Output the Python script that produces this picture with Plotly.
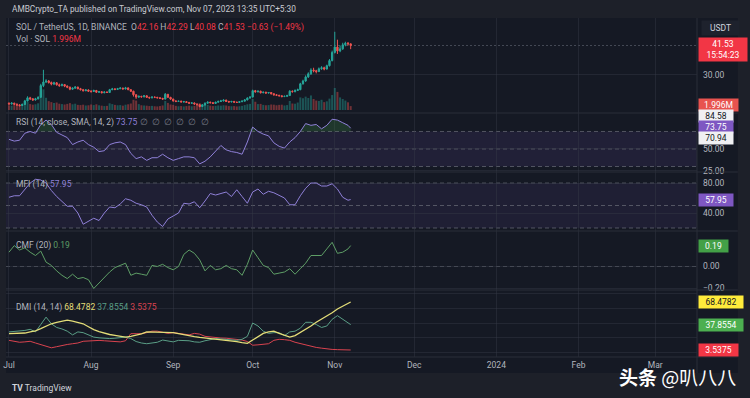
import numpy as np
import pandas as pd
import plotly.graph_objects as go

# ---------------- data ----------------
start_date = "2023-07-01"
prev_close = 18.9  # close of 2023-06-30 (daily open = previous close)

close = [
    18.6, 18.9, 18.5, 18.2, 18.0, 18.4, 19.8, 21.0, 20.6, 20.2,
    20.6, 21.2, 25.8, 27.2, 27.6, 27.0, 26.4, 26.9, 26.1, 25.8,
    26.2, 25.6, 25.2, 24.4, 24.8, 25.2, 24.6, 24.2, 23.8, 24.1,
    23.6, 23.5, 23.9, 23.2, 23.4, 23.0, 23.3, 23.1, 24.2, 24.5,
    24.3, 24.6, 24.8, 24.5, 24.9, 24.2, 23.6, 22.2, 21.3, 21.6,
    21.4, 21.8, 21.2, 21.0, 21.3, 21.2, 21.0, 20.8, 20.5, 22.4,
    21.2, 20.5, 19.8, 19.6, 19.7, 19.4, 19.5, 19.2, 18.9, 19.0,
    18.6, 18.3, 17.6, 18.2, 18.9, 19.3, 19.1, 18.8, 19.3, 19.6,
    19.8, 20.1, 19.6, 19.4, 19.6, 19.3, 19.2, 19.5, 19.7, 20.2,
    20.9, 21.3, 23.8, 23.4, 23.6, 23.0, 23.2, 22.9, 23.1, 22.6,
    22.2, 22.0, 21.8, 21.5, 21.6, 21.9, 23.6, 23.4, 23.9, 24.2,
    26.5, 27.6, 29.2, 30.4, 31.9, 31.6, 31.3, 32.4, 32.8, 32.3,
    33.6, 35.6, 38.8, 40.9, 39.4, 40.2, 41.8, 42.4, 42.16, 41.53,
]
high = [
    19.2, 19.3, 19.1, 18.8, 18.5, 18.8, 20.2, 21.6, 21.4, 20.9,
    21.0, 21.6, 26.5, 32.0, 28.3, 28.0, 27.4, 27.3, 27.2, 26.6,
    26.6, 26.4, 25.9, 25.4, 25.1, 25.6, 25.4, 24.9, 24.5, 24.4,
    24.3, 24.0, 24.2, 24.1, 23.7, 23.6, 23.5, 23.5, 24.5, 24.9,
    24.8, 24.9, 25.2, 25.0, 25.3, 25.1, 24.4, 23.8, 22.4, 21.9,
    21.8, 22.1, 22.0, 21.4, 21.6, 21.5, 21.4, 21.2, 21.0, 22.9,
    22.5, 21.4, 20.7, 20.0, 19.9, 19.9, 19.8, 19.7, 19.4, 19.3,
    19.2, 18.8, 18.5, 18.5, 19.2, 19.6, 19.5, 19.3, 19.5, 19.9,
    20.2, 20.4, 20.3, 19.8, 19.8, 19.8, 19.5, 19.7, 20.0, 20.5,
    21.2, 21.6, 24.2, 24.1, 23.9, 23.8, 23.5, 23.4, 23.3, 23.2,
    22.8, 22.4, 22.2, 22.0, 21.9, 22.2, 24.0, 23.9, 24.3, 24.6,
    26.9, 28.1, 29.8, 31.0, 32.6, 32.8, 32.0, 32.9, 33.4, 33.2,
    34.0, 36.2, 39.5, 46.9, 43.8, 41.5, 42.6, 43.0, 42.9, 42.29,
]
low = [
    18.3, 18.4, 18.2, 17.9, 17.6, 17.8, 18.2, 19.6, 20.2, 19.8,
    19.9, 20.4, 21.0, 25.2, 26.8, 26.6, 25.9, 26.0, 25.8, 25.3,
    25.5, 25.2, 24.8, 24.0, 24.1, 24.6, 24.3, 23.9, 23.5, 23.6,
    23.3, 23.0, 23.3, 22.9, 23.0, 22.8, 22.8, 22.9, 23.0, 24.0,
    24.0, 24.1, 24.4, 24.2, 24.3, 24.0, 23.3, 21.5, 20.6, 21.0,
    21.1, 21.2, 21.0, 20.7, 20.8, 20.9, 20.8, 20.6, 20.2, 20.4,
    21.0, 20.2, 19.5, 19.3, 19.4, 19.2, 19.2, 19.0, 18.6, 18.7,
    18.3, 18.0, 17.3, 17.4, 18.0, 18.7, 18.8, 18.6, 18.7, 19.1,
    19.4, 19.6, 19.4, 19.1, 19.2, 19.1, 19.0, 19.0, 19.3, 19.6,
    20.0, 20.7, 21.2, 23.0, 23.1, 22.7, 22.8, 22.6, 22.7, 22.3,
    21.9, 21.7, 21.5, 21.2, 21.3, 21.4, 21.8, 23.1, 23.2, 23.7,
    24.0, 26.2, 27.3, 28.8, 30.0, 31.0, 30.6, 31.1, 32.0, 31.8,
    32.1, 33.3, 35.3, 38.4, 38.2, 38.9, 39.8, 41.2, 41.5, 40.08,
]
volume_m = [
    2.4, 2.2, 2.6, 2.5, 2.8, 2.6, 3.8, 4.2, 3.0, 2.7, 2.9, 3.4,
    9.5, 10.5, 6.2, 4.5, 4.0, 3.6, 3.8, 3.2, 3.0, 2.8, 3.1, 3.5, 2.9, 3.2, 2.6, 2.5, 2.7, 2.3, 2.4,
    2.8, 2.5, 2.9, 2.4, 2.2, 2.0, 2.1, 3.4, 3.0, 2.6, 2.4, 2.5, 2.2, 2.7, 2.9, 3.3, 5.2, 4.8, 3.0, 2.4,
    2.3, 2.2, 2.0, 2.1, 1.9, 1.8, 2.0, 2.3, 4.6, 3.6, 2.8,
    2.6, 2.1, 1.9, 2.0, 1.8, 2.0, 2.2, 1.9, 2.1, 2.4, 3.5, 3.0, 2.9, 2.6, 2.2, 2.0, 2.1, 2.3, 2.2, 2.4,
    2.3, 2.0, 1.9, 2.0, 1.8, 1.9, 2.1, 2.5, 2.9, 3.1,
    5.6, 4.2, 3.0, 3.1, 2.6, 2.4, 2.5, 2.8, 2.7, 2.4, 2.6, 2.7, 2.3, 2.5, 4.6, 3.3, 3.2, 3.8, 6.4, 6.0,
    6.8, 6.1, 7.4, 5.6, 4.8, 4.6, 5.2, 4.0, 4.4, 5.8, 7.6,
    11.2, 9.2, 6.4, 5.6, 4.8, 3.9, 1.996,
]

# indicators, read every second day (plus the last day)
rsi = [61, 59, 60, 68, 70, 68, 78, 83, 78, 69,
       66, 63, 55, 58, 60, 55, 52, 47, 48, 55,
       57, 58, 55, 45, 39, 41, 37, 40, 40, 44,
       40, 37, 39, 41, 41, 40, 33, 36, 41, 48,
       54, 49, 47, 46, 44, 58, 75, 70, 67, 65,
       57, 53, 51, 58, 63, 70, 79, 77, 78, 73,
       77, 84, 83, 80, 77, 73.75]
mfi = [61, 63, 63, 71, 80, 85, 84, 80, 70, 62,
       55, 49, 49, 40, 25, 29, 33, 30, 40, 48,
       47, 52, 59, 57, 53, 51, 48, 37, 28, 22,
       32, 36, 40, 53, 52, 55, 47, 56, 66, 64,
       66, 68, 62, 71, 62, 53, 68, 72, 65, 69,
       67, 63, 60, 51, 51, 63, 73, 80, 80, 76,
       76, 79, 72, 61, 57, 57.95]
cmf = [0.13, 0.19, 0.15, 0.17, 0.13, 0.10, 0.14, 0.04, 0.01, -0.04,
       -0.08, -0.11, -0.07, -0.11, -0.10, -0.12, -0.20, -0.15, -0.10, -0.05,
       -0.01, 0.01, 0.03, -0.08, -0.06, -0.07, -0.08, 0.01, 0.00, 0.02,
       -0.01, -0.03, 0.00, 0.11, 0.15, 0.12, 0.06, -0.04, 0.01, -0.03,
       -0.02, 0.01, -0.02, -0.03, -0.08, 0.02, 0.15, 0.08, 0.01, -0.01,
       -0.07, -0.06, -0.05, -0.02, -0.07, -0.02, 0.03, 0.10, 0.10, 0.10,
       0.16, 0.22, 0.12, 0.13, 0.16, 0.19]
dmi_yellow = [25.6, 25.6, 25.6, 26.5, 28, 29.5, 32.5, 36, 39, 41,
              43, 44, 42.5, 41, 39, 35, 31, 28.5, 26, 24.5,
              23.4, 22, 21, 22, 23.5, 25.5, 28, 28, 28, 28,
              28, 27, 25.6, 24, 22.5, 21.5, 20.5, 19.7, 19, 18.5,
              18, 17, 16, 15, 13.5, 12.5, 17, 22, 26, 28,
              29, 26, 23, 21, 23, 27, 32, 36, 41, 45,
              50, 54, 59, 63, 67, 68.4782]
dmi_green = [28, 28.5, 29, 30, 31.5, 28, 38, 48, 39, 34,
             32, 29, 24, 28, 27, 24, 21, 20, 19, 19,
             19.5, 20, 21, 19, 15, 13, 12, 13, 14, 17,
             16, 14.5, 16.6, 16.6, 16, 14.5, 14, 16, 17.5, 19,
             18.5, 18, 17, 16.6, 18, 22, 40, 36, 29, 26,
             27, 27, 23, 28, 29, 33, 41, 41, 38, 34,
             36, 45, 50, 45, 40, 37.8554]
dmi_red = [16.6, 15, 14, 14.5, 15.3, 13, 11, 9, 6.5, 8,
           10, 11, 12, 13, 15.3, 16, 16.6, 16.5, 16, 15.3,
           15, 14.5, 16, 25.6, 25.6, 25.6, 27, 29, 29, 28,
           26, 27, 26, 24.5, 24, 26, 25, 22, 21, 20.5,
           19.7, 19.5, 19, 18, 17, 15, 10, 10.5, 11.5, 12,
           16.6, 18, 17.5, 16.6, 14, 12, 10, 8.5, 7, 6,
           4.8, 4.3, 4, 3.8, 3.6, 3.5375]

rsi_band_upper = 84.58
rsi_band_lower = 70.94
countdown = "15:54:23"
quote_ccy = "USDT"
symbol_text = "SOL / TetherUS, 1D, BINANCE"
vol_text = "Vol · SOL"
header_text = "AMBCrypto_TA published on TradingView.com, Nov 07, 2023 13:35 UTC+5:30"
month_ticks = ["2023-07-01", "2023-08-01", "2023-09-01", "2023-10-01", "2023-11-01",
               "2023-12-01", "2024-01-01", "2024-02-01", "2024-03-01"]
month_labels = ["Jul", "Aug", "Sep", "Oct", "Nov", "Dec", "2024", "Feb", "Mar"]
rsi_levels = [70, 50, 30]
mfi_levels = [80, 50, 20]
cmf_levels = [0]
price_ticks = [30]
rsi_ticks = [25, 50]
mfi_ticks = [40, 80]
cmf_ticks = [-0.2, 0.0]
watermark = "<b>头条</b> @叭八八"

# ---------------- derived ----------------
n = len(close)
dates = pd.date_range(start_date, periods=n, freq="D")
open_ = [prev_close] + close[:-1]
ind_idx = list(range(0, n, 2)) + [n - 1]
ind_dates = dates[ind_idx]

UP, DN = "#26a69a", "#ef5350"
vol_colors = ["rgba(38,166,154,0.42)" if c >= o else "rgba(239,83,80,0.42)"
              for o, c in zip(open_, close)]

# ---------------- geometry ----------------
W, H = 750, 398
ML, MR, MT, MB = 3, 53, 18, 41
PW, PH = W - ML - MR, H - MT - MB


def py(p):
    return (H - MB - p) / PH


def pxx(p):
    return (p - ML) / PW


bounds = [18, 113, 172, 231, 290, 357]
dom = [[py(bounds[i + 1]), py(bounds[i])] for i in range(5)]

PANEL = "#151924"
OUTER = "#1d2029"
GRID = "rgba(54,58,70,0.45)"
TXT = "#b2b5be"
FONT = "Roboto"
FS = 8.5

fig = go.Figure()

# volume (main y) and price (overlay y2)
fig.add_trace(go.Bar(x=dates, y=volume_m, marker=dict(color=vol_colors, line_width=0),
                     yaxis="y", hoverinfo="skip"))
fig.add_trace(go.Candlestick(x=dates, open=open_, high=high, low=low, close=close,
                             increasing=dict(line=dict(color=UP, width=1), fillcolor=UP),
                             decreasing=dict(line=dict(color=DN, width=1), fillcolor=DN),
                             whiskerwidth=0, yaxis="y2", hoverinfo="skip"))

# RSI
rsi_arr = np.array(rsi, dtype=float)
fig.add_trace(go.Scatter(x=ind_dates, y=[rsi_levels[0]] * len(ind_idx), yaxis="y3",
                         mode="lines", line=dict(width=0), hoverinfo="skip"))
fig.add_trace(go.Scatter(x=ind_dates, y=np.maximum(rsi_arr, rsi_levels[0]), yaxis="y3",
                         mode="lines", line=dict(width=0), fill="tonexty",
                         fillcolor="rgba(76,175,80,0.2)", hoverinfo="skip"))
fig.add_trace(go.Scatter(x=ind_dates, y=rsi, yaxis="y3", mode="lines",
                         line=dict(color="#8f80d8", width=1)))
# MFI
fig.add_trace(go.Scatter(x=ind_dates, y=mfi, yaxis="y4", mode="lines",
                         line=dict(color="#8f80d8", width=1)))
# CMF
fig.add_trace(go.Scatter(x=ind_dates, y=cmf, yaxis="y5", mode="lines",
                         line=dict(color="#5e9e66", width=1)))
# DMI
fig.add_trace(go.Scatter(x=ind_dates, y=dmi_red, yaxis="y6", mode="lines",
                         line=dict(color="#d9434f", width=1)))
fig.add_trace(go.Scatter(x=ind_dates, y=dmi_green, yaxis="y6", mode="lines",
                         line=dict(color="#5a9e86", width=1)))
fig.add_trace(go.Scatter(x=ind_dates, y=dmi_yellow, yaxis="y6", mode="lines",
                         line=dict(color="#e3dd78", width=1.3)))

shapes = []
# panel background (incl. price scale and time scale)
shapes.append(dict(type="rect", xref="paper", yref="paper", x0=pxx(3), x1=pxx(738),
                   y0=py(373), y1=py(18), fillcolor=PANEL, line_width=0, layer="below"))
# pane separators
for b in bounds[1:-1]:
    shapes.append(dict(type="line", xref="paper", yref="paper", x0=pxx(3), x1=pxx(738),
                       y0=py(b), y1=py(b), line=dict(color="#2a2e39", width=1), layer="above"))
shapes.append(dict(type="line", xref="paper", yref="paper", x0=1, x1=1, y0=py(373), y1=py(18),
                   line=dict(color="#2a2e39", width=1), layer="above"))
shapes.append(dict(type="line", xref="paper", yref="paper", x0=pxx(3), x1=pxx(738),
                   y0=0, y1=0, line=dict(color="#2a2e39", width=1), layer="above"))
# bands
shapes.append(dict(type="rect", xref="paper", yref="y3", x0=0, x1=1, y0=rsi_levels[2],
                   y1=rsi_levels[0], fillcolor="rgba(126,87,194,0.12)", line_width=0, layer="below"))
shapes.append(dict(type="rect", xref="paper", yref="y4", x0=0, x1=1, y0=mfi_levels[2],
                   y1=mfi_levels[0], fillcolor="rgba(126,87,194,0.10)", line_width=0, layer="below"))
dash_line = dict(color="rgba(120,123,134,0.6)", width=1, dash="4px,3px")
for lv in rsi_levels:
    shapes.append(dict(type="line", xref="paper", yref="y3", x0=0, x1=1, y0=lv, y1=lv,
                       line=dash_line, layer="below"))
for lv in mfi_levels:
    shapes.append(dict(type="line", xref="paper", yref="y4", x0=0, x1=1, y0=lv, y1=lv,
                       line=dash_line, layer="below"))
for lv in cmf_levels:
    shapes.append(dict(type="line", xref="paper", yref="y5", x0=0, x1=1, y0=lv, y1=lv,
                       line=dash_line, layer="below"))
# last price line
shapes.append(dict(type="line", xref="paper", yref="y2", x0=0, x1=1, y0=close[-1], y1=close[-1],
                   line=dict(color="rgba(160,165,180,0.35)", width=1, dash="2px,2px"), layer="below"))

red = "#f23645"
chg = close[-1] - close[-2]
pct = chg / close[-2] * 100


def val(v):
    return f'<span style="color:{red}">{v}</span>'


ann = []


def text(x, y, s, size=FS, color=TXT, **kw):
    ann.append(dict(xref="paper", yref="paper", x=pxx(x), y=py(y), text=s, showarrow=False,
                    xanchor="left", yanchor="middle", font=dict(family=FONT, size=size, color=color), **kw))


text(7, 9, header_text, size=8.3, color="#c9cbd2")
text(11, 28, f"{symbol_text}  O{val(f'{open_[-1]:.2f}')} H{val(f'{high[-1]:.2f}')} "
             f"L{val(f'{low[-1]:.2f}')} C{val(f'{close[-1]:.2f}')} "
             f"{val(f'{chg:+.2f} ({pct:+.2f}%)'.replace('-', '−'))}")
text(11, 39, f"{vol_text} {val(f'{volume_m[-1]:.3f}M')}")
text(11, 122, "RSI (14, close, SMA, 14, 2) "
              f'<span style="color:#8f80d8">{rsi[-1]:.2f}</span> '
              '<span style="color:#787b86">∅  ∅  ∅  ∅  ∅  ∅</span>')
text(11, 184, f'MFI (14) <span style="color:#8f80d8">{mfi[-1]:.2f}</span>')
text(11, 245, f'CMF (20) <span style="color:#5e9e66">{cmf[-1]:.2f}</span>')
text(11, 307, 'DMI (14, 14) '
              f'<span style="color:#e3dd78">{dmi_yellow[-1]:.4f}</span> '
              f'<span style="color:#5a9e86">{dmi_green[-1]:.4f}</span> '
              f'<span style="color:#d9434f">{dmi_red[-1]:.4f}</span>')
text(7, 388, "<b>TV</b> TradingView", size=8.5, color="#d1d4dc")
ann.append(dict(xref="paper", yref="paper", x=pxx(617), y=py(376), text=watermark, showarrow=False,
                xanchor="left", yanchor="middle",
                font=dict(family="Noto Sans CJK SC", size=19, color="#ffffff")))
# USDT box
ann.append(dict(xref="paper", yref="paper", x=pxx(701), y=py(28), text=quote_ccy, showarrow=False,
                xanchor="left", yanchor="middle", bgcolor="#1e222d", borderpad=2, width=33,
                font=dict(family=FONT, size=FS, color="#d1d4dc")))


def label(s, yref, v, bg, fg, yshift=0):
    longest = max(len(t) for t in s.split("<br>"))
    ann.append(dict(xref="paper", yref=yref, x=1, y=v, text=s, showarrow=False,
                    xanchor="left", yanchor="middle", xshift=1, yshift=yshift, bgcolor=bg,
                    borderpad=1, align="center", width=round(longest * 4.8 + 8),
                    font=dict(family=FONT, size=FS, color=fg)))


label(f"{close[-1]:.2f}<br>{countdown}", "y2", close[-1], red, "#ffffff", yshift=-4)
label(f"{volume_m[-1]:.3f}M", "y", volume_m[-1], "#e8534f", "#ffffff", yshift=1)
label(f"{rsi_band_upper:.2f}", "y3", rsi_band_upper, "#f0f0f3", "#131722", yshift=3.2)
label(f"{rsi[-1]:.2f}", "y3", rsi[-1], "#7e57c2", "#ffffff", yshift=1.2)
label(f"{rsi_band_lower:.2f}", "y3", rsi_band_lower, "#f0f0f3", "#131722", yshift=-7.8)
label(f"{mfi[-1]:.2f}", "y4", mfi[-1], "#7e57c2", "#ffffff")
label(f"{cmf[-1]:.2f}", "y5", cmf[-1], "#43a047", "#ffffff")
label(f"{dmi_yellow[-1]:.4f}", "y6", dmi_yellow[-1], "#ffeb3b", "#131722")
label(f"{dmi_green[-1]:.4f}", "y6", dmi_green[-1], "#4caf50", "#ffffff")
label(f"{dmi_red[-1]:.4f}", "y6", dmi_red[-1], red, "#ffffff")

axfont = dict(family=FONT, size=FS, color=TXT)
common_y = dict(side="right", showline=False, zeroline=False, ticks="", tickfont=axfont,
                gridcolor=GRID, showgrid=True, fixedrange=True, ticklabelstandoff=5)

fig.update_layout(
    width=W, height=H, margin=dict(l=ML, r=MR, t=MT, b=MB),
    paper_bgcolor=OUTER, plot_bgcolor=PANEL, showlegend=False, bargap=0.25,
    shapes=shapes, annotations=ann,
    xaxis=dict(type="date", range=["2023-06-29 21:00", "2024-03-16 18:00"], anchor="y6",
               tickvals=month_ticks, ticktext=month_labels, tickfont=axfont, ticks="",
               showgrid=True, gridcolor=GRID, zeroline=False, showline=False,
               rangeslider=dict(visible=False), ticklabelstandoff=1),
    yaxis=dict(domain=dom[0], range=[-1.53, 46.8], showticklabels=False, showgrid=False,
               zeroline=False, side="right"),
    yaxis2=dict(common_y, overlaying="y", range=[15.06, 52.3], tickvals=price_ticks,
                tickformat=".2f"),
    yaxis3=dict(common_y, domain=dom[1], range=[23.7, 91.1], tickvals=rsi_ticks, tickformat=".2f"),
    yaxis4=dict(common_y, domain=dom[2], range=[16, 94.7], tickvals=mfi_ticks, tickformat=".2f"),
    yaxis5=dict(common_y, domain=dom[3], range=[-0.2136, 0.3227], tickvals=cmf_ticks,
                tickformat=".2f"),
    yaxis6=dict(common_y, domain=dom[4], range=[-5.95, 84.7], showticklabels=False),
)

fig.write_html("out.html", config={"displayModeBar": False},
               post_script="document.body.style.margin='0px';")
